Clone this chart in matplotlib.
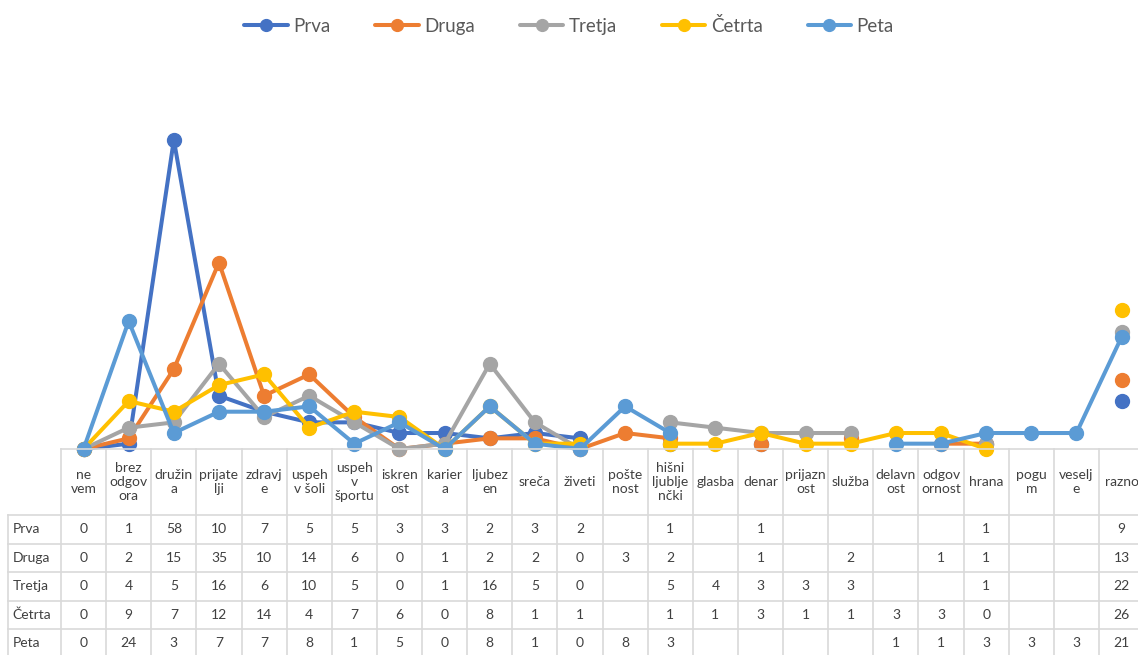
import numpy as np
import matplotlib
matplotlib.use("Agg")
import matplotlib.pyplot as plt
import matplotlib.transforms as mtransforms

plt.rcParams["font.family"] = ["Lato", "DejaVu Sans"]

# kategorije (z prelomi kot v Excelovi tabeli)
kategorije = ["ne\nvem", "brez\nodgov\nora", "družin\na", "prijate\nlji", "zdravj\ne",
              "uspeh\nv šoli", "uspeh\nv\nšportu", "iskren\nost", "karier\na", "ljubez\nen",
              "sreča", "živeti", "pošte\nnost", "hišni\nljublje\nnčki", "glasba", "denar",
              "prijazn\nost", "služba", "delavn\nost", "odgov\nornost", "hrana", "pogu\nm",
              "veselj\ne", "razno"]

N = None
prva = [0, 1, 58, 10, 7, 5, 5, 3, 3, 2, 3, 2, N, 1, N, 1, N, N, N, N, 1, N, N, 9]
druga = [0, 2, 15, 35, 10, 14, 6, 0, 1, 2, 2, 0, 3, 2, N, 1, N, 2, N, 1, 1, N, N, 13]
tretja = [0, 4, 5, 16, 6, 10, 5, 0, 1, 16, 5, 0, N, 5, 4, 3, 3, 3, N, N, 1, N, N, 22]
cetrta = [0, 9, 7, 12, 14, 4, 7, 6, 0, 8, 1, 1, N, 1, 1, 3, 1, 1, 3, 3, 0, N, N, 26]
peta = [0, 24, 3, 7, 7, 8, 1, 5, 0, 8, 1, 0, 8, 3, N, N, N, N, 1, 1, 3, 3, 3, 21]

serije = ["Prva", "Druga", "Tretja", "Četrta", "Peta"]
podatki = [prva, druga, tretja, cetrta, peta]
barve = ["#4472C4", "#ED7D31", "#A5A5A5", "#FFC000", "#5B9BD5"]

W, H = 1138, 655
fig = plt.figure(figsize=(W / 100, H / 100), dpi=100)

# plot area: x od 61 px, 24 stolpcev po ~45.13 px, y od 449 px (0) do 76 px (70)
col_w = 45.13
ax = fig.add_axes([61 / W, (H - 449) / H, 24 * col_w / W, 373 / H])
x = np.arange(len(kategorije))

for ime, vrednosti, barva in zip(serije, podatki, barve):
    y = np.array([np.nan if v is None else v for v in vrednosti], dtype=float)
    ax.plot(x, y, color=barva, lw=2.9, marker="o", markersize=10,
            label=ime, clip_on=False, solid_capstyle="round")

ax.set_xlim(-0.5, len(kategorije) - 0.5)
ax.set_ylim(0, 70)
for s in ["top", "right", "left"]:
    ax.spines[s].set_visible(False)
ax.spines["bottom"].set_color("#D9D9D9")
ax.spines["bottom"].set_linewidth(1.2)
ax.set_xticks([])
ax.set_yticks([])

# tabela s podatki pod grafom
trans = mtransforms.blended_transform_factory(ax.transData, fig.transFigure)
grid_c = "#D9D9D9"
txt_c = "#404040"
fs = 10


def fy(py):
    return (H - py) / H


head_top, head_bot = 449, 515
row_h = 28.5
x_left = -0.5 - (61 - 8) / col_w
x_right = len(kategorije) - 0.5

# navpicne crte
for i in range(len(kategorije) + 1):
    xi = i - 0.5
    ax.plot([xi, xi], [fy(head_top), fy(H + 5)], color=grid_c, lw=1.2,
            transform=trans, clip_on=False)
ax.plot([x_left, x_left], [fy(head_bot), fy(H + 5)], color=grid_c, lw=1.2,
        transform=trans, clip_on=False)

# vodoravne crte
for r in range(len(serije)):
    py = head_bot + r * row_h
    ax.plot([x_left, x_right], [fy(py), fy(py)], color=grid_c, lw=1.2,
            transform=trans, clip_on=False)

# glava
for i, k in enumerate(kategorije):
    ax.text(i, fy((head_top + head_bot) / 2), k, transform=trans, ha="center",
            va="center", fontsize=fs, color=txt_c, linespacing=1.25)

# vrstice
for r, (ime, vrednosti) in enumerate(zip(serije, podatki)):
    cy = fy(head_bot + (r + 0.5) * row_h)
    ax.text(x_left + 0.1, cy, ime, transform=trans, ha="left", va="center",
            fontsize=fs, color=txt_c)
    for i, v in enumerate(vrednosti):
        if v is not None:
            ax.text(i, cy, str(v), transform=trans, ha="center", va="center",
                    fontsize=fs, color=txt_c)

leg = fig.legend(loc="upper center", bbox_to_anchor=(0.5, 1.0), ncol=5,
                 frameon=False, fontsize=13.5, handlelength=2.3, columnspacing=2.4,
                 handletextpad=0.3, markerscale=0.85)
for t in leg.get_texts():
    t.set_color("#595959")

fig.savefig("out.png", dpi=100)
